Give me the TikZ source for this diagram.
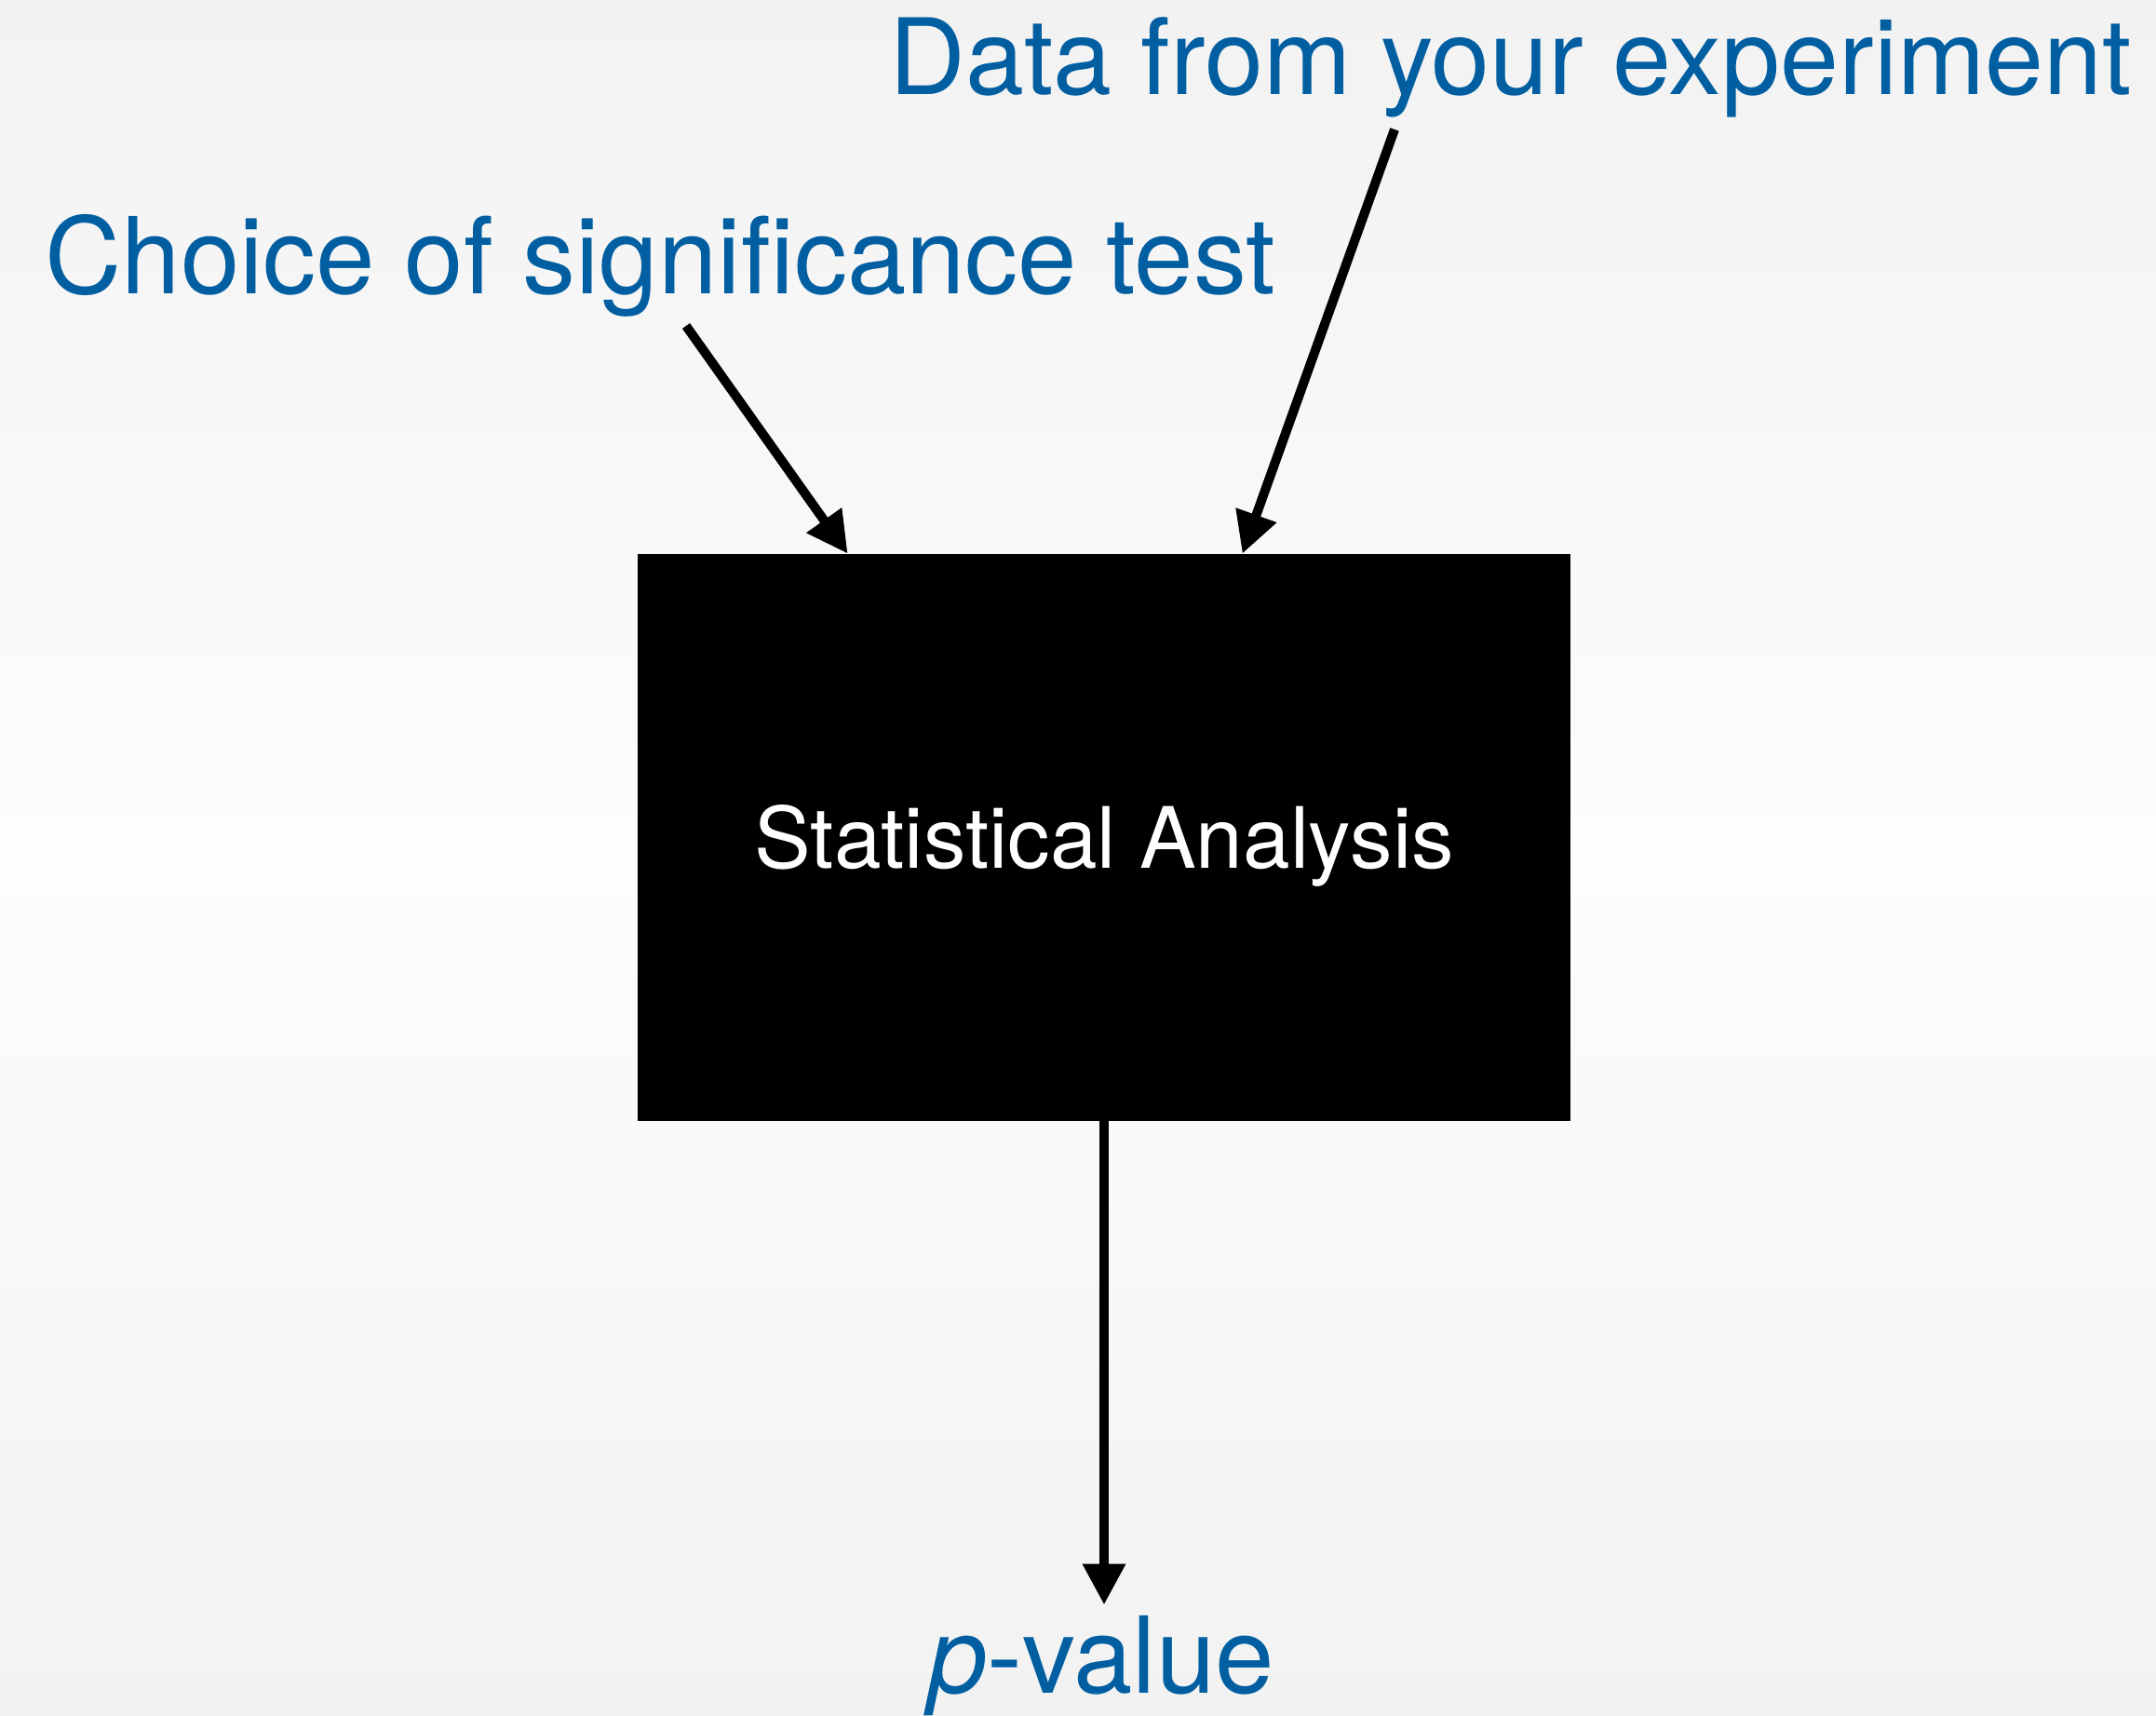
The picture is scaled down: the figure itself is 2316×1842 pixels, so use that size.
\documentclass[tikz,border=0pt]{standalone}
\usepackage{fontspec}
\setmainfont{TeX Gyre Heros}
\usetikzlibrary{arrows.meta,calc}
\definecolor{labelblue}{RGB}{0,94,161}
\definecolor{bgedge}{RGB}{242,242,242}
\definecolor{bgmid}{RGB}{253,253,253}
\begin{document}
\begin{tikzpicture}[x=0.5pt,y=-0.5pt,
  lbl/.style={text=labelblue,font=\fontsize{57}{60}\selectfont,inner sep=0pt},
  procbox/.style={fill=black,draw=none,minimum width=501pt,minimum height=304.5pt,inner sep=0pt,text=white,font=\fontsize{45.5}{50}\selectfont,text height=32.7pt,text depth=0pt},
  flow/.style={line width=5pt,-{Triangle[length=22pt,width=22pt]}}]
\useasboundingbox (0,0) rectangle (2316,1842);
\shade[top color=bgedge,bottom color=bgedge,middle color=bgmid] (0,0) rectangle (2316,1842);

\node[procbox] (box) at (1186,899.5) {Statistical Analysis};

\node[lbl,anchor=base west,font=\fontsize{56.6}{60}\selectfont] (data) at (955,101) {Data from your experiment};
\node[lbl,anchor=base west] (choice) at (48,315) {Choice of significance test};
\node[lbl,anchor=base] (pval) at (1183,1818) {\textit{p}-value};

\coordinate (s1) at (737,350);
\coordinate (s2) at (1498,139);

\draw[flow] (s1) -- ($(box.north west)+(226,0)$);
\draw[flow] (s2) -- ($(box.north west)+(650,0)$);
\draw[flow,shorten >=5.5pt] (box.south) -- (box.south |- pval.north);
\end{tikzpicture}
\end{document}
